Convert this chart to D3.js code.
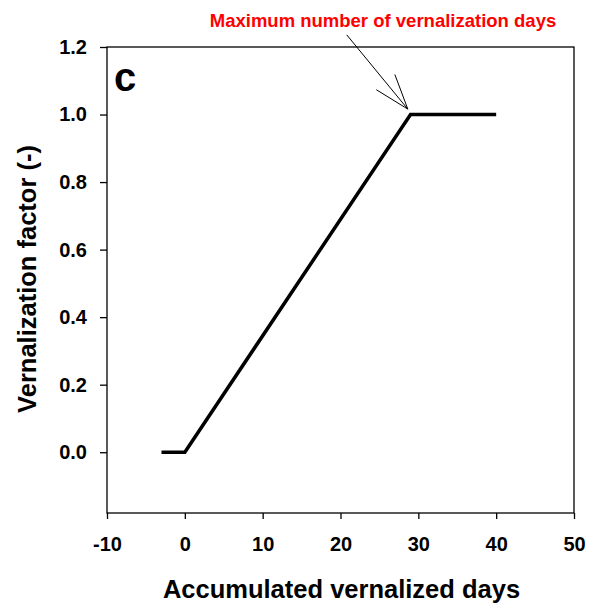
<!DOCTYPE html>
<html>
<head>
<meta charset="utf-8">
<script src="https://cdn.jsdelivr.net/npm/d3@7"></script>
<style>
  body { margin: 0; background: #fff; }
  text { font-family: "Liberation Sans", Arial, sans-serif; font-weight: bold; }
</style>
</head>
<body>
<svg id="chart"></svg>
<script>
// accumulated vernalized days vs vernalization factor
const days = [-3, 0, 29, 40];
const factor = [0, 0, 1, 1];
const xTicks = [-10, 0, 10, 20, 30, 40, 50];
const yTicks = [0.0, 0.2, 0.4, 0.6, 0.8, 1.0, 1.2];

const WIDTH = 594;
const HEIGHT = 608;
const MARGIN = {top: 47, right: 20, bottom: 95, left: 107};

const width = WIDTH - MARGIN.left - MARGIN.right;
const height = HEIGHT - MARGIN.top - MARGIN.bottom;

const x = d3.scaleLinear().domain([-10, 50]).range([0, width]);
const y = d3.scaleLinear().domain([-0.18, 1.2]).range([height, 0]);

const svg = d3.select('#chart')
  .attr('width', WIDTH)
  .attr('height', HEIGHT);

const chart = svg.append('g')
  .attr('transform', `translate(${MARGIN.left}, ${MARGIN.top})`);

// frame
chart.append('rect')
  .attr('width', width)
  .attr('height', height)
  .attr('fill', 'none')
  .attr('stroke', '#000')
  .attr('stroke-width', 1.3);

const xAxis = d3.axisBottom(x)
  .tickValues(xTicks)
  .tickSizeInner(6)
  .tickSizeOuter(0)
  .tickPadding(18)
  .tickFormat((d) => String(d)); // plain hyphen like the original

const yAxis = d3.axisLeft(y)
  .tickValues(yTicks)
  .tickSizeInner(7)
  .tickSizeOuter(0)
  .tickPadding(13)
  .tickFormat(d3.format('.1f'));

const gx = chart.append('g')
  .attr('transform', `translate(0, ${height})`)
  .call(xAxis);

const gy = chart.append('g').call(yAxis);

[gx, gy].forEach((g) => {
  g.select('.domain').remove();
  g.selectAll('.tick line').attr('stroke', '#000').attr('stroke-width', 1.3);
  g.selectAll('.tick text')
    .attr('fill', '#000')
    .style('font-size', '20px')
    .style('font-family', '"Liberation Sans", Arial, sans-serif')
    .style('font-weight', 'bold');
});

// line
const line = d3.line()
  .x((d, i) => x(days[i]))
  .y((d, i) => y(factor[i]));

chart.append('path')
  .datum(days)
  .attr('d', line)
  .attr('fill', 'none')
  .attr('stroke', '#000')
  .attr('stroke-width', 3.5)
  .attr('stroke-linejoin', 'miter');

// panel letter
chart.append('text')
  .attr('x', 7)
  .attr('y', 44)
  .style('font-size', '40px')
  .text('c');

// annotation
const tip = [x(28.65), y(1.016)];
const tail = [x(20.8), y(1.236)];
const ang = Math.atan2(tip[1] - tail[1], tip[0] - tail[0]);
const headLen = 37;
const spread = 0.33;

chart.append('line')
  .attr('x1', tail[0]).attr('y1', tail[1])
  .attr('x2', tip[0]).attr('y2', tip[1])
  .attr('stroke', '#000').attr('stroke-width', 1);

[-spread, spread].forEach((s) => {
  chart.append('line')
    .attr('x1', tip[0]).attr('y1', tip[1])
    .attr('x2', tip[0] - headLen * Math.cos(ang + s))
    .attr('y2', tip[1] - headLen * Math.sin(ang + s))
    .attr('stroke', '#000').attr('stroke-width', 1);
});

svg.append('text')
  .attr('x', 383)
  .attr('y', 27)
  .attr('text-anchor', 'middle')
  .attr('fill', '#ff0000')
  .style('font-size', '18.5px')
  .text('Maximum number of vernalization days');

// axis titles
svg.append('text')
  .attr('x', MARGIN.left + width / 2 + 1)
  .attr('y', 598)
  .attr('text-anchor', 'middle')
  .style('font-size', '25.5px')
  .text('Accumulated vernalized days');

svg.append('text')
  .attr('transform', 'translate(36, 279) rotate(-90)')
  .attr('text-anchor', 'middle')
  .style('font-size', '25.5px')
  .text('Vernalization factor (-)');
</script>
</body>
</html>
